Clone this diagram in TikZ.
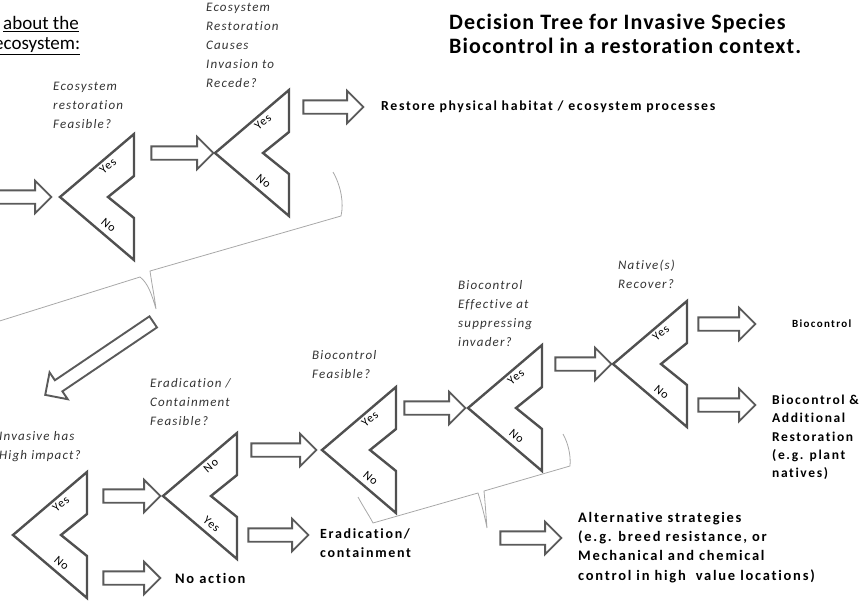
\documentclass[tikz,border=0pt]{standalone}
\usepackage{fontspec}
\setmainfont{Carlito}[Ligatures=NoCommon]
\newfontfamily\questfont{Carlito}[LetterSpace=9, Ligatures=NoCommon]
\newfontfamily\outfont{Carlito}[LetterSpace=12, Ligatures=NoCommon]
\newfontfamily\titlefont{Carlito}[LetterSpace=5, Ligatures=NoCommon]
\usepackage{xcolor}
\usetikzlibrary{shapes.arrows, calc}

\definecolor{chevgray}{HTML}{505050}
\definecolor{arrgray}{HTML}{5A5A5A}
\definecolor{bracegray}{HTML}{A8A8A8}

% hollow block arrow between two points
\newcommand{\blockarrow}[2]{%
  \path let \p1=(#1), \p2=(#2), \n1={veclen(\x2-\x1,\y2-\y1)} in
    (#1) -- node[barrow, sloped, allow upside down, minimum height=\n1] {} (#2);}

\begin{document}
\begin{tikzpicture}[x=1pt, y=-1pt,
    chevline/.style={draw=chevgray, line width=2.4pt, line join=miter},
    yn/.style={font=\questfont\fontsize{12}{12}\selectfont, inner sep=1pt},
    quest/.style={font=\questfont\itshape\fontsize{13}{19}\selectfont,
                  align=left, inner sep=0pt, text=black!80},
    outcome/.style={font=\outfont\bfseries\fontsize{14.5}{19.3}\selectfont,
                    align=left, inner sep=0pt},
    barrow/.style={single arrow, draw=arrgray, fill=white, line width=1.9pt,
                   text height=5.75pt, text depth=5.75pt,
                   single arrow head extend=9.5pt,
                   single arrow tip angle=90, inner sep=0pt},
    brace/.style={draw=bracegray, line width=0.8pt},
    pics/chev/.style 2 args={code={
      \draw[chevline] (0,0) -- (74,-63) -- (74,-21) -- (48,0) -- (74,21)
                      -- (74,63) -- cycle;
      \coordinate (-tip) at (0,0);
      \coordinate (-right) at (74,0);
      \path (0,0) -- (74,-63) node[pos=0.58, below=2.5pt, sloped, yn] {#1};
      \path (0,0) -- (74,63) node[pos=0.57, above=5pt, sloped, yn] {#2};
    }}]
  \useasboundingbox (0,0) rectangle (862,600);
  \clip (0,0) rectangle (862,600);

  % title and heading
  \node[anchor=north west, align=left, inner sep=0pt,
        font=\titlefont\bfseries\fontsize{22}{24}\selectfont] (title) at (449,14)
        {Decision Tree for Invasive Species\\Biocontrol in a restoration context.};
  \node[anchor=west, inner sep=0pt, font=\fontsize{19}{20}\selectfont] (about) at (3,24) {\underline{about the}};
  \node[anchor=west, inner sep=0pt, font=\fontsize{19}{20}\selectfont] (ecosys) at (-6,46) {\underline{ecosystem:}};

  % decision chevrons
  \pic (feas)   at (60,197)  {chev={Yes}{No}};
  \pic (recede) at (215,153) {chev={Yes}{No}};
  \pic (impact) at (13,535)  {chev={Yes}{No}};
  \pic (erad)   at (163,496) {chev={No}{Yes}};
  \pic (bioc)   at (322,450) {chev={Yes}{No}};
  \pic (effect) at (468,408) {chev={Yes}{No}};
  \pic (native) at (613,364) {chev={Yes}{No}};

  % questions
  \node[quest, anchor=north west] (qfeas)   at (53,82)   {Ecosystem\\restoration\\Feasible?};
  \node[quest, anchor=north west] (qrecede) at (206,3)   {Ecosystem\\Restoration\\Causes\\Invasion to\\Recede?};
  \node[quest, anchor=north west] (qimpact) at (-1,431)  {Invasive has\\High impact?};
  \node[quest, anchor=north west] (qerad)   at (150,378) {Eradication /\\Containment\\Feasible?};
  \node[quest, anchor=north west] (qbioc)   at (312,350) {Biocontrol\\Feasible?};
  \node[quest, anchor=north west] (qeffect) at (458,280) {Biocontrol\\Effective at\\suppressing\\invader?};
  \node[quest, anchor=north west] (qnative) at (618,260) {Native(s)\\Recover?};

  % outcomes
  \node[outcome, anchor=west, font=\outfont\bfseries\fontsize{13.8}{19}\selectfont]
        (restore) at (381,107) {Restore physical habitat / ecosystem processes};
  \node[outcome, anchor=west] (noaction)   at (175,578) {No action};
  \node[outcome, anchor=north west, font=\outfont\bfseries\fontsize{14}{19}\selectfont]
        (eradtxt) at (320,528) {Eradication/\\containment};
  \node[outcome, anchor=west, font=\outfont\bfseries\fontsize{11}{12}\selectfont]
        (biocontrol) at (792,324) {Biocontrol};
  \node[outcome, anchor=north west, font=\outfont\bfseries\fontsize{13.5}{18.3}\selectfont]
        (bioadd) at (772,395) {Biocontrol \&\\Additional\\Restoration\\(e.g. plant\\natives)};
  \node[outcome, anchor=north west] (alt) at (578,512)
        {Alternative strategies\\(e.g. breed resistance, or\\Mechanical and chemical\\control in high\ \ value locations)};

  % braces grouping the "No" answers
  \draw[brace] (333,172) .. controls (341,186) and (344,203) .. (341,216)
    -- (150,271) .. controls (152,285) and (155,300) .. (156,309)
    .. controls (152,295) and (148,283) .. (140,277) -- (-10,324);
  \coordinate (spike1) at (156,309);
  \draw[brace] (358,497) .. controls (364,508) and (370,517) .. (373,523)
    -- (478,493) .. controls (482,505) and (485,518) .. (487,528)
    .. controls (486,515) and (485,501) .. (484,491)
    -- (570,466) .. controls (571,455) and (568,443) .. (563,434);
  \coordinate (spike2) at (487,528);
  \coordinate (entry) at (-8,197);

  % block arrows
  \blockarrow{entry}{[xshift=-12pt]feas-tip}
  \blockarrow{[xshift=14pt]feas-right |- recede-tip}{[xshift=-5pt]recede-tip}
  \blockarrow{[xshift=11pt]recede-right |- restore.west}{[xshift=-21pt]restore.west}
  \blockarrow{[yshift=-11pt]spike1}{$(impact-tip)+(35,-142)$}
  \blockarrow{[xshift=13pt]impact-right |- erad-tip}{[xshift=-6pt]erad-tip}
  \blockarrow{[xshift=13pt]impact-right |- noaction.west}{[xshift=-18pt]noaction.west}
  \blockarrow{[xshift=11pt]erad-right |- bioc-tip}{[xshift=-9pt]bioc-tip}
  \blockarrow{[xshift=8pt,yshift=-39pt]erad-right}{[xshift=-15pt,yshift=-39pt]erad-right -| eradtxt.west}
  \blockarrow{[xshift=5pt]bioc-right |- effect-tip}{[xshift=-6pt]effect-tip}
  \blockarrow{[xshift=10pt]effect-right |- native-tip}{[xshift=-5pt]native-tip}
  \blockarrow{[xshift=8pt]native-right |- biocontrol.west}{[xshift=-40pt]biocontrol.west}
  \blockarrow{[xshift=8pt,yshift=-41pt]native-right}{[xshift=-20pt,yshift=-41pt]native-right -| bioadd.west}
  \blockarrow{[xshift=10pt,yshift=-10pt]spike2}{[xshift=-20pt,yshift=-10pt]spike2 -| alt.west}
\end{tikzpicture}
\end{document}
